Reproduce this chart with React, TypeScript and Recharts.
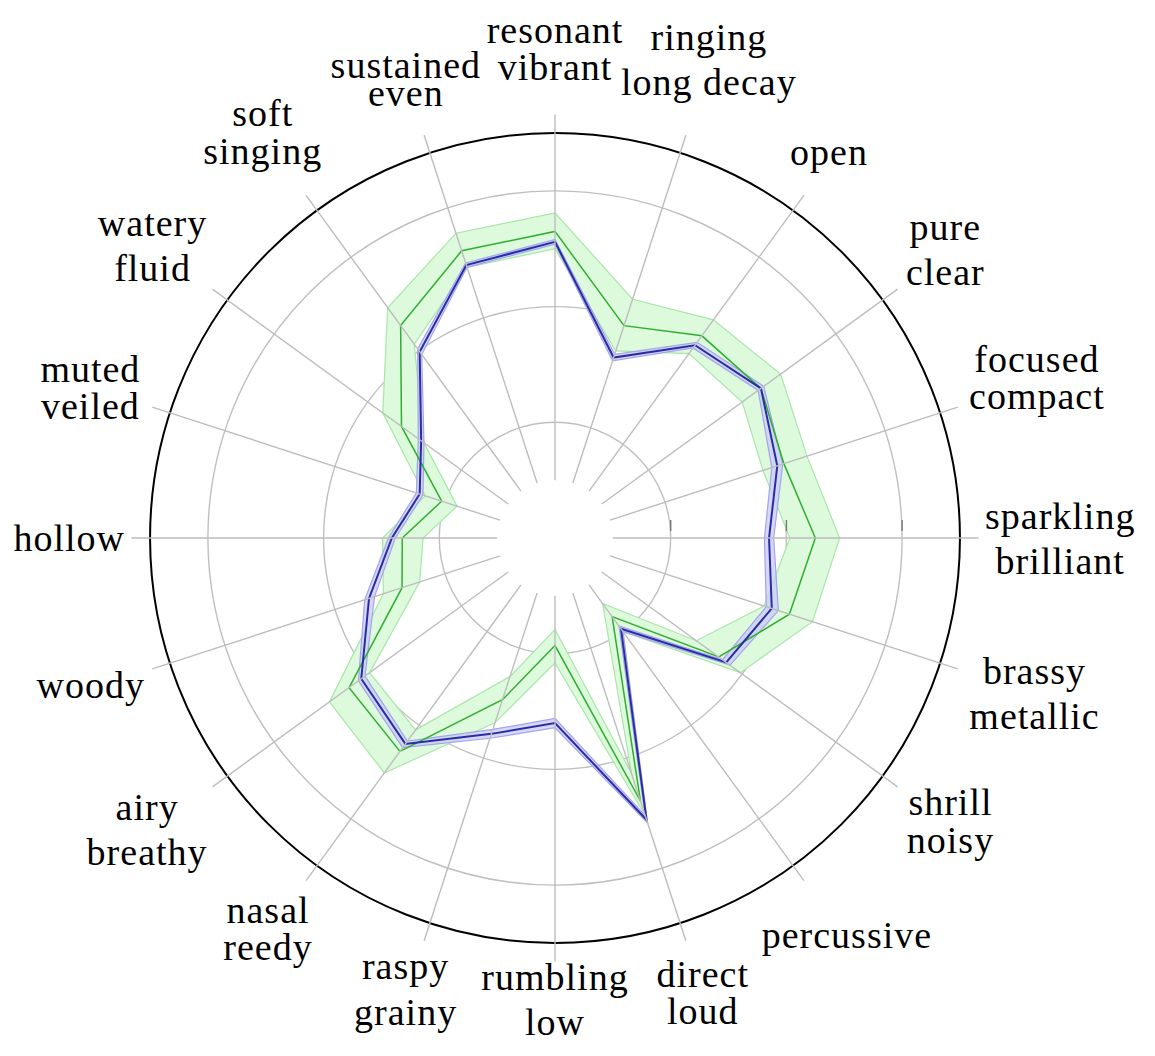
import React from "react";
import { RadarChart, Radar, PolarGrid, PolarAngleAxis, PolarRadiusAxis } from "recharts";

// axis categories, clockwise from the top ("\n" splits the two label lines)
const CATEGORIES = [
  "resonant\nvibrant",
  "ringing\nlong decay",
  "open",
  "pure\nclear",
  "focused\ncompact",
  "sparkling\nbrilliant",
  "brassy\nmetallic",
  "shrill\nnoisy",
  "percussive",
  "direct\nloud",
  "rumbling\nlow",
  "raspy\ngrainy",
  "nasal\nreedy",
  "airy\nbreathy",
  "woody",
  "hollow",
  "muted\nveiled",
  "watery\nfluid",
  "soft\nsinging",
  "sustained\neven",
];

const GREEN_LOW = [2.5, 1.7, 1.97, 2.0, 1.89, 2.03, 1.9, 1.51, 0.7, 2.14, 0.79, 1.26, 2.05, 1.98, 1.23, 1.14, 0.89, 1.4, 2.07, 2.46];
const GREEN_MEAN = [2.65, 1.93, 2.16, 2.2, 2.08, 2.25, 2.13, 1.75, 0.84, 2.39, 0.93, 1.47, 2.28, 2.2, 1.39, 1.32, 1.03, 1.64, 2.27, 2.61];
const GREEN_HIGH = [2.81, 2.17, 2.33, 2.41, 2.29, 2.46, 2.34, 1.98, 1.0, 2.52, 1.08, 1.68, 2.51, 2.41, 1.56, 1.49, 1.18, 1.84, 2.46, 2.77];

const BLUE_LOW = [2.54, 1.61, 2.03, 2.17, 1.97, 1.81, 1.92, 1.79, 0.94, 2.52, 1.56, 1.74, 2.17, 2.03, 1.64, 1.38, 1.2, 1.4, 1.96, 2.46];
const BLUE_MEAN = [2.56, 1.64, 2.06, 2.2, 2.02, 1.85, 1.97, 1.83, 0.97, 2.56, 1.6, 1.78, 2.2, 2.07, 1.69, 1.41, 1.23, 1.43, 1.99, 2.48];
const BLUE_HIGH = [2.58, 1.67, 2.09, 2.23, 2.07, 1.89, 2.03, 1.87, 1.0, 2.59, 1.64, 1.82, 2.24, 2.1, 1.73, 1.44, 1.26, 1.46, 2.02, 2.5];

const RADIUS_TICKS = [1, 2, 3];
const R_DOMAIN = 4; // radius axis runs 0..4, the black rim sits at 3.5
const R_RIM = 3.5;

const data = CATEGORIES.map((label, i) => ({
  label,
  gRange: [GREEN_LOW[i], GREEN_HIGH[i]],
  gMean: GREEN_MEAN[i],
  bRange: [BLUE_LOW[i], BLUE_HIGH[i]],
  bMean: BLUE_MEAN[i],
}));

const W = 1155;
const H = 1056;
const CX = 555;
const CY = 538;
const U = 115.7; // px per unit
const AXIS_R = R_DOMAIN * U;
const RIM_R = R_RIM * U;
const SPOKE_IN = 0.5;
const SPOKE_OUT = 3.66;
const FONT = "Liberation Serif";
const FONT_SIZE = 38;
const LETTER_SP = 1;

let ctx: CanvasRenderingContext2D | null = null;
function textWidth(s: string) {
  if (!ctx) ctx = document.createElement("canvas").getContext("2d");
  if (!ctx) return s.length * FONT_SIZE * 0.47;
  ctx.font = `${FONT_SIZE}px "${FONT}"`;
  return ctx.measureText(s).width + s.length * LETTER_SP;
}

// rough ink extents of a line, tex-like stacking of the lines
const asc = (t: string) => (/[bdfhklt]/.test(t) ? 26 : /[ij]/.test(t) ? 25 : 17);
const desc = (t: string) => (/[gjpqy]/.test(t) ? 8 : 0);
const lineGap = (a: string, b: string) => desc(a) + (/[bdfhklt]/.test(b) ? 26 : /[ij]/.test(b) ? 27 : 17) + 11;

function AngleTick(props: any) {
  const { x, y, payload } = props;
  const ang = Math.atan2(CY - y, x - CX);
  const c = Math.cos(ang);
  const s = Math.sin(ang);
  const lines = String(payload.value).split("\n");
  const gaps = lines.slice(1).map((l, i) => lineGap(lines[i], l));
  const total = gaps.reduce((a, b) => a + b, 0);
  const halfW = Math.max(...lines.map(textWidth)) / 2;
  const halfH = (asc(lines[0]) + total + desc(lines[lines.length - 1])) / 2;
  // the label box just touches a circle round the plot; top one sits higher, bottom one lower
  const r0 = 430 + 4 * Math.abs(s) + (s > 0.99 ? 24 : 0) + (s < -0.99 ? -8 : 0);
  const r = r0 + halfW * Math.abs(c) + halfH * Math.abs(s);
  const lx = CX + r * c;
  const ly = CY - r * s;
  let base = ly - halfH + asc(lines[0]);
  const ys = lines.map((_, i) => {
    if (i > 0) base += gaps[i - 1];
    return base;
  });
  return (
    <g>
      <line
        x1={CX + SPOKE_IN * U * c}
        y1={CY - SPOKE_IN * U * s}
        x2={CX + SPOKE_OUT * U * c}
        y2={CY - SPOKE_OUT * U * s}
        stroke="#bdbdbd"
        strokeWidth={1.4}
      />
      <text textAnchor="middle" fontFamily={FONT} fontSize={FONT_SIZE} letterSpacing={LETTER_SP} fill="#000">
        {lines.map((l, i) => (
          <tspan key={i} x={lx} y={ys[i]}>
            {l}
          </tspan>
        ))}
      </text>
    </g>
  );
}

function RadiusTick(props: any) {
  const { x, y } = props;
  return <line x1={x} y1={y - 18} x2={x} y2={y - 7} stroke="#777" strokeWidth={1.4} />;
}

export default function App() {
  return (
    <div style={{ position: "absolute", left: 0, top: 0, width: W, height: H, background: "#fff" }}>
      <RadarChart width={W} height={H} data={data} cx={CX} cy={CY} outerRadius={AXIS_R} margin={{ top: 0, right: 0, bottom: 0, left: 0 }}>
        <PolarGrid gridType="circle" radialLines={false} stroke="#bfbfbf" strokeWidth={1.4} />
        <PolarGrid gridType="circle" radialLines={false} polarRadius={[RIM_R]} stroke="#000" strokeWidth={2} />
        <PolarAngleAxis dataKey="label" tick={(p: any) => <AngleTick {...p} />} tickLine={false} axisLine={false} />
        <PolarRadiusAxis
          angle={0}
          type="number"
          domain={[0, R_DOMAIN]}
          ticks={RADIUS_TICKS}
          tick={(p: any) => <RadiusTick {...p} />}
          tickLine={false}
          axisLine={false}
        />
        <Radar dataKey="gRange" fill="#ddfadd" fillOpacity={1} stroke="#a9e6a9" strokeWidth={1.2} isAnimationActive={false} />
        <Radar dataKey="bRange" fill="#c9c9f6" fillOpacity={0.75} stroke="#a4a4ec" strokeWidth={1.2} isAnimationActive={false} />
        <Radar dataKey="gMean" fill="none" stroke="#2fae2f" strokeWidth={1.5} isAnimationActive={false} />
        <Radar dataKey="bMean" fill="none" stroke="#2a2ca6" strokeWidth={2} isAnimationActive={false} />
      </RadarChart>
    </div>
  );
}
